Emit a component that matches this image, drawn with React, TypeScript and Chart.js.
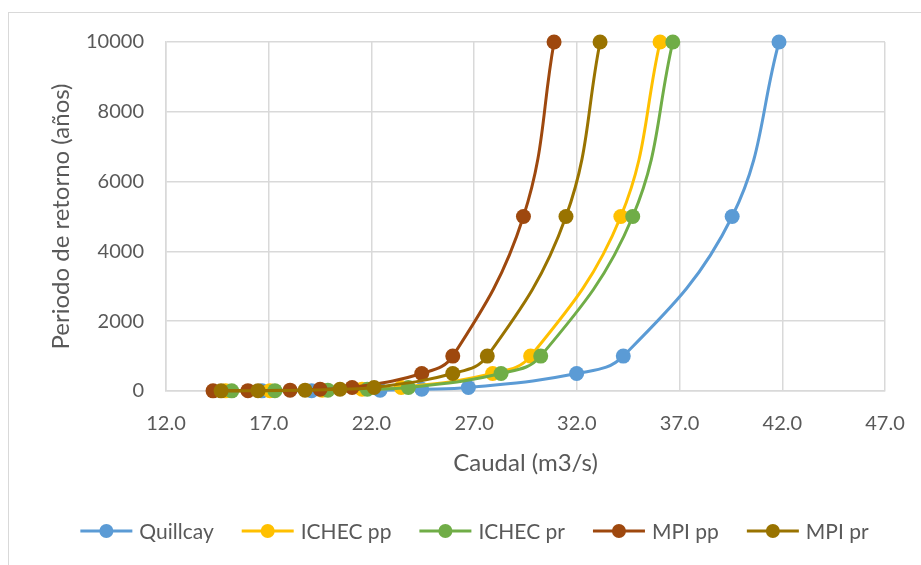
import React, { useEffect, useRef } from "react";
import { Chart, registerables } from "chart.js";

Chart.register(...registerables);

const returnPeriods = [5, 10, 25, 50, 100, 500, 1000, 5000, 10000];
const quillcay = [16.67, 19.09, 22.42, 24.45, 26.72, 31.99, 34.26, 39.56, 41.84];
const ichecPp = [14.9, 17.06, 19.6, 21.54, 23.45, 27.9, 29.75, 34.14, 36.05];
const ichecPr = [15.2, 17.3, 19.88, 21.8, 23.8, 28.31, 30.24, 34.72, 36.67];
const mpiPp = [14.29, 15.99, 18.04, 19.5, 21.06, 24.45, 25.96, 29.4, 30.89];
const mpiPr = [14.68, 16.48, 18.77, 20.47, 22.13, 25.96, 27.64, 31.47, 33.13];

const seriesNames = ["Quillcay", "ICHEC pp", "ICHEC pr", "MPI pp", "MPI pr"];
const seriesValues = [quillcay, ichecPp, ichecPr, mpiPp, mpiPr];
const seriesColors = ["#5B9BD5", "#FFC000", "#70AD47", "#9E480E", "#997300"];

const xTitle = "Caudal (m3/s)";
const yTitle = "Periodo de retorno (años)";

const FONT = "Lato, 'Open Sans', sans-serif";
const TEXT = "#595959";
const GRID = "#d9d9d9";

const legendPlugin = {
  id: "excelLegend",
  afterDraw(chart: any) {
    const ctx = chart.ctx;
    ctx.save();
    ctx.font = `21px ${FONT}`;
    const lineLen = 52;
    const gapText = 7;
    const gapItem = 28;
    const widths = seriesNames.map((n) => ctx.measureText(n).width);
    const total =
      widths.reduce((a, b) => a + b, 0) +
      seriesNames.length * (lineLen + gapText) +
      gapItem * (seriesNames.length - 1);
    let x = 474.5 - total / 2;
    const y = 531;
    seriesNames.forEach((name, i) => {
      ctx.strokeStyle = seriesColors[i];
      ctx.lineWidth = 3;
      ctx.beginPath();
      ctx.moveTo(x, y);
      ctx.lineTo(x + lineLen, y);
      ctx.stroke();
      ctx.fillStyle = seriesColors[i];
      ctx.beginPath();
      ctx.arc(x + lineLen / 2, y, 7, 0, Math.PI * 2);
      ctx.fill();
      ctx.fillStyle = TEXT;
      ctx.textBaseline = "middle";
      ctx.textAlign = "left";
      ctx.fillText(name, x + lineLen + gapText, y + 1);
      x += lineLen + gapText + widths[i] + gapItem;
    });
    ctx.restore();
  },
};

export default function App() {
  const ref = useRef<HTMLCanvasElement | null>(null);

  useEffect(() => {
    if (!ref.current) return;
    const datasets = seriesNames.map((name, i) => ({
      label: name,
      data: returnPeriods.map((t, k) => ({ x: seriesValues[i][k], y: t })),
      showLine: true,
      borderColor: seriesColors[i],
      backgroundColor: seriesColors[i],
      pointBackgroundColor: seriesColors[i],
      pointBorderColor: seriesColors[i],
      pointBorderWidth: 0,
      pointRadius: 7.5,
      borderWidth: 3,
      tension: 0.4,
      clip: false as any,
      order: seriesNames.length - 1 - i,
    }));

    const chart = new Chart(ref.current, {
      type: "scatter",
      data: { datasets },
      plugins: [legendPlugin],
      options: {
        animation: false,
        responsive: false,
        devicePixelRatio: 1,
        layout: { padding: { left: 43, top: 42, right: 36, bottom: 83.6 } },
        plugins: {
          legend: { display: false },
          tooltip: { enabled: false },
        },
        scales: {
          x: {
            type: "linear",
            min: 12,
            max: 47,
            ticks: {
              stepSize: 5,
              padding: 21,
              color: TEXT,
              font: { family: FONT, size: 20 },
              callback: (v: any) => Number(v).toFixed(1),
            },
            grid: { color: GRID, lineWidth: 1.5, drawTicks: false },
            border: { color: GRID, width: 1.5 },
            title: {
              display: true,
              text: xTitle,
              color: TEXT,
              font: { family: FONT, size: 24 },
              padding: { top: 4, bottom: 4 },
            },
            afterFit: (s: any) => {
              s.height = 90.4;
              s.paddingLeft = 0;
              s.paddingRight = 0;
            },
          },
          y: {
            type: "linear",
            min: 0,
            max: 10000,
            ticks: {
              stepSize: 2000,
              padding: 22,
              color: TEXT,
              font: { family: FONT, size: 20 },
              callback: (v: any) => String(v),
            },
            grid: { color: GRID, lineWidth: 1.5, drawTicks: false },
            border: { color: GRID, width: 1.5 },
            title: {
              display: true,
              text: yTitle,
              color: TEXT,
              font: { family: FONT, size: 24 },
              padding: { top: 4, bottom: 4 },
            },
            afterFit: (s: any) => {
              s.width = 123;
              s.paddingTop = 0;
              s.paddingBottom = 0;
            },
          },
        },
      },
    });
    return () => chart.destroy();
  }, []);

  return (
    <div>
      <div
        style={{
          position: "fixed",
          left: 8,
          top: 12,
          width: 913,
          height: 553,
          boxSizing: "border-box",
          borderTop: "1px solid #d9d9d9",
          borderLeft: "1px solid #d9d9d9",
          background: "#fff",
        }}
      />
      <canvas
        ref={ref}
        width={921}
        height={565}
        style={{ position: "fixed", left: 0, top: 0, width: 921, height: 565 }}
      />
    </div>
  );
}
